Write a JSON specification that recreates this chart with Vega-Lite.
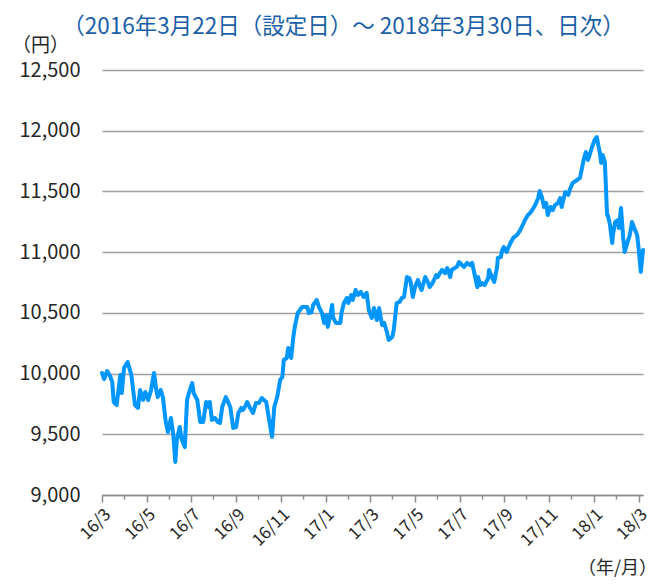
{
  "$schema": "https://vega.github.io/schema/vega-lite/v6.json",
  "width": 541,
  "height": 425,
  "autosize": {"type": "none"},
  "padding": {"left": 102, "top": 70, "right": 13, "bottom": 89},
  "background": "white",
  "config": {
    "view": {"stroke": null},
    "font": "Noto Sans CJK JP"
  },
  "title": {
    "text": "（2016年3月22日（設定日）～ 2018年3月30日、日次）",
    "anchor": "middle",
    "frame": "group",
    "dx": -29,
    "offset": -2,
    "fontSize": 22.5,
    "fontWeight": "normal",
    "color": "#1b5fa8",
    "font": "Noto Sans CJK JP"
  },
  "data": {
    "values": [
      {"date": "2016-03-22", "price": 10005},
      {"date": "2016-03-25", "price": 9955},
      {"date": "2016-03-29", "price": 10021},
      {"date": "2016-04-02", "price": 9980},
      {"date": "2016-04-05", "price": 9931},
      {"date": "2016-04-07", "price": 9766},
      {"date": "2016-04-11", "price": 9741},
      {"date": "2016-04-16", "price": 9988},
      {"date": "2016-04-18", "price": 9840},
      {"date": "2016-04-21", "price": 10046},
      {"date": "2016-04-26", "price": 10095},
      {"date": "2016-05-01", "price": 9988},
      {"date": "2016-05-06", "price": 9741},
      {"date": "2016-05-10", "price": 9717},
      {"date": "2016-05-13", "price": 9865},
      {"date": "2016-05-17", "price": 9782},
      {"date": "2016-05-20", "price": 9848},
      {"date": "2016-05-24", "price": 9782},
      {"date": "2016-05-28", "price": 9865},
      {"date": "2016-06-01", "price": 10005},
      {"date": "2016-06-04", "price": 9865},
      {"date": "2016-06-06", "price": 9807},
      {"date": "2016-06-10", "price": 9865},
      {"date": "2016-06-13", "price": 9807},
      {"date": "2016-06-17", "price": 9601},
      {"date": "2016-06-20", "price": 9519},
      {"date": "2016-06-24", "price": 9634},
      {"date": "2016-06-27", "price": 9511},
      {"date": "2016-06-30", "price": 9272},
      {"date": "2016-07-02", "price": 9453},
      {"date": "2016-07-06", "price": 9560},
      {"date": "2016-07-09", "price": 9453},
      {"date": "2016-07-13", "price": 9395},
      {"date": "2016-07-16", "price": 9782},
      {"date": "2016-07-19", "price": 9848},
      {"date": "2016-07-23", "price": 9922},
      {"date": "2016-07-25", "price": 9840},
      {"date": "2016-07-30", "price": 9782},
      {"date": "2016-08-03", "price": 9601},
      {"date": "2016-08-07", "price": 9601},
      {"date": "2016-08-11", "price": 9766},
      {"date": "2016-08-14", "price": 9725},
      {"date": "2016-08-16", "price": 9766},
      {"date": "2016-08-19", "price": 9618},
      {"date": "2016-08-23", "price": 9634},
      {"date": "2016-08-27", "price": 9601},
      {"date": "2016-08-30", "price": 9593},
      {"date": "2016-09-02", "price": 9725},
      {"date": "2016-09-07", "price": 9807},
      {"date": "2016-09-10", "price": 9766},
      {"date": "2016-09-13", "price": 9725},
      {"date": "2016-09-17", "price": 9552},
      {"date": "2016-09-21", "price": 9560},
      {"date": "2016-09-24", "price": 9675},
      {"date": "2016-09-28", "price": 9717},
      {"date": "2016-09-30", "price": 9700},
      {"date": "2016-10-03", "price": 9725},
      {"date": "2016-10-06", "price": 9766},
      {"date": "2016-10-10", "price": 9717},
      {"date": "2016-10-14", "price": 9675},
      {"date": "2016-10-18", "price": 9758},
      {"date": "2016-10-22", "price": 9758},
      {"date": "2016-10-26", "price": 9799},
      {"date": "2016-11-01", "price": 9766},
      {"date": "2016-11-05", "price": 9618},
      {"date": "2016-11-09", "price": 9478},
      {"date": "2016-11-12", "price": 9725},
      {"date": "2016-11-16", "price": 9807},
      {"date": "2016-11-20", "price": 9947},
      {"date": "2016-11-23", "price": 9972},
      {"date": "2016-11-25", "price": 10112},
      {"date": "2016-11-29", "price": 10128},
      {"date": "2016-12-01", "price": 10211},
      {"date": "2016-12-05", "price": 10128},
      {"date": "2016-12-08", "price": 10301},
      {"date": "2016-12-10", "price": 10384},
      {"date": "2016-12-14", "price": 10499},
      {"date": "2016-12-20", "price": 10548},
      {"date": "2016-12-24", "price": 10548},
      {"date": "2016-12-27", "price": 10548},
      {"date": "2016-12-29", "price": 10499},
      {"date": "2017-01-02", "price": 10507},
      {"date": "2017-01-04", "price": 10565},
      {"date": "2017-01-09", "price": 10606},
      {"date": "2017-01-12", "price": 10548},
      {"date": "2017-01-16", "price": 10499},
      {"date": "2017-01-19", "price": 10417},
      {"date": "2017-01-22", "price": 10482},
      {"date": "2017-01-24", "price": 10384},
      {"date": "2017-01-27", "price": 10466},
      {"date": "2017-01-30", "price": 10565},
      {"date": "2017-01-31", "price": 10466},
      {"date": "2017-02-04", "price": 10417},
      {"date": "2017-02-10", "price": 10417},
      {"date": "2017-02-12", "price": 10507},
      {"date": "2017-02-15", "price": 10581},
      {"date": "2017-02-19", "price": 10622},
      {"date": "2017-02-21", "price": 10581},
      {"date": "2017-02-25", "price": 10647},
      {"date": "2017-02-27", "price": 10606},
      {"date": "2017-03-03", "price": 10688},
      {"date": "2017-03-06", "price": 10647},
      {"date": "2017-03-10", "price": 10672},
      {"date": "2017-03-14", "price": 10631},
      {"date": "2017-03-18", "price": 10664},
      {"date": "2017-03-21", "price": 10524},
      {"date": "2017-03-25", "price": 10458},
      {"date": "2017-03-28", "price": 10540},
      {"date": "2017-04-01", "price": 10441},
      {"date": "2017-04-04", "price": 10540},
      {"date": "2017-04-08", "price": 10400},
      {"date": "2017-04-11", "price": 10417},
      {"date": "2017-04-15", "price": 10334},
      {"date": "2017-04-17", "price": 10277},
      {"date": "2017-04-22", "price": 10301},
      {"date": "2017-04-24", "price": 10359},
      {"date": "2017-04-28", "price": 10581},
      {"date": "2017-05-02", "price": 10590},
      {"date": "2017-05-05", "price": 10622},
      {"date": "2017-05-08", "price": 10631},
      {"date": "2017-05-12", "price": 10795},
      {"date": "2017-05-15", "price": 10787},
      {"date": "2017-05-17", "price": 10754},
      {"date": "2017-05-20", "price": 10631},
      {"date": "2017-05-23", "price": 10713},
      {"date": "2017-05-27", "price": 10771},
      {"date": "2017-05-30", "price": 10713},
      {"date": "2017-06-01", "price": 10688},
      {"date": "2017-06-06", "price": 10795},
      {"date": "2017-06-10", "price": 10746},
      {"date": "2017-06-12", "price": 10713},
      {"date": "2017-06-16", "price": 10746},
      {"date": "2017-06-21", "price": 10812},
      {"date": "2017-06-23", "price": 10795},
      {"date": "2017-06-26", "price": 10828},
      {"date": "2017-06-29", "price": 10853},
      {"date": "2017-07-03", "price": 10828},
      {"date": "2017-07-06", "price": 10869},
      {"date": "2017-07-10", "price": 10795},
      {"date": "2017-07-12", "price": 10853},
      {"date": "2017-07-16", "price": 10869},
      {"date": "2017-07-19", "price": 10878},
      {"date": "2017-07-22", "price": 10919},
      {"date": "2017-07-26", "price": 10894},
      {"date": "2017-07-29", "price": 10878},
      {"date": "2017-08-02", "price": 10911},
      {"date": "2017-08-06", "price": 10894},
      {"date": "2017-08-09", "price": 10911},
      {"date": "2017-08-11", "price": 10853},
      {"date": "2017-08-16", "price": 10713},
      {"date": "2017-08-17", "price": 10795},
      {"date": "2017-08-20", "price": 10729},
      {"date": "2017-08-22", "price": 10746},
      {"date": "2017-08-26", "price": 10729},
      {"date": "2017-08-31", "price": 10787},
      {"date": "2017-09-01", "price": 10853},
      {"date": "2017-09-05", "price": 10795},
      {"date": "2017-09-08", "price": 10754},
      {"date": "2017-09-12", "price": 10878},
      {"date": "2017-09-13", "price": 10952},
      {"date": "2017-09-17", "price": 10960},
      {"date": "2017-09-19", "price": 11018},
      {"date": "2017-09-21", "price": 11042},
      {"date": "2017-09-25", "price": 11001},
      {"date": "2017-09-27", "price": 11034},
      {"date": "2017-10-01", "price": 11084},
      {"date": "2017-10-04", "price": 11117},
      {"date": "2017-10-09", "price": 11141},
      {"date": "2017-10-12", "price": 11166},
      {"date": "2017-10-15", "price": 11199},
      {"date": "2017-10-17", "price": 11224},
      {"date": "2017-10-20", "price": 11265},
      {"date": "2017-10-24", "price": 11306},
      {"date": "2017-10-27", "price": 11322},
      {"date": "2017-10-30", "price": 11347},
      {"date": "2017-11-03", "price": 11388},
      {"date": "2017-11-07", "price": 11446},
      {"date": "2017-11-09", "price": 11504},
      {"date": "2017-11-12", "price": 11454},
      {"date": "2017-11-15", "price": 11372},
      {"date": "2017-11-18", "price": 11405},
      {"date": "2017-11-20", "price": 11306},
      {"date": "2017-11-24", "price": 11372},
      {"date": "2017-11-27", "price": 11347},
      {"date": "2017-11-30", "price": 11388},
      {"date": "2017-12-04", "price": 11405},
      {"date": "2017-12-07", "price": 11446},
      {"date": "2017-12-09", "price": 11372},
      {"date": "2017-12-14", "price": 11495},
      {"date": "2017-12-18", "price": 11471},
      {"date": "2017-12-20", "price": 11512},
      {"date": "2017-12-24", "price": 11569},
      {"date": "2017-12-30", "price": 11594},
      {"date": "2018-01-03", "price": 11611},
      {"date": "2018-01-06", "price": 11701},
      {"date": "2018-01-08", "price": 11759},
      {"date": "2018-01-11", "price": 11825},
      {"date": "2018-01-14", "price": 11759},
      {"date": "2018-01-17", "price": 11817},
      {"date": "2018-01-19", "price": 11858},
      {"date": "2018-01-23", "price": 11924},
      {"date": "2018-01-26", "price": 11948},
      {"date": "2018-01-28", "price": 11882},
      {"date": "2018-01-30", "price": 11825},
      {"date": "2018-02-01", "price": 11734},
      {"date": "2018-02-03", "price": 11800},
      {"date": "2018-02-06", "price": 11742},
      {"date": "2018-02-09", "price": 11306},
      {"date": "2018-02-10", "price": 11306},
      {"date": "2018-02-13", "price": 11224},
      {"date": "2018-02-16", "price": 11075},
      {"date": "2018-02-17", "price": 11141},
      {"date": "2018-02-20", "price": 11248},
      {"date": "2018-02-24", "price": 11265},
      {"date": "2018-02-25", "price": 11199},
      {"date": "2018-02-28", "price": 11364},
      {"date": "2018-03-03", "price": 11117},
      {"date": "2018-03-05", "price": 11001},
      {"date": "2018-03-09", "price": 11084},
      {"date": "2018-03-12", "price": 11141},
      {"date": "2018-03-15", "price": 11248},
      {"date": "2018-03-18", "price": 11199},
      {"date": "2018-03-22", "price": 11141},
      {"date": "2018-03-24", "price": 11034},
      {"date": "2018-03-27", "price": 10837},
      {"date": "2018-03-30", "price": 11018}
    ]
  },
  "encoding": {
    "y": {
      "field": "price",
      "type": "quantitative",
      "scale": {"domain": [9000, 12500], "nice": false, "zero": false},
      "axis": {
        "values": [9000, 9500, 10000, 10500, 11000, 11500, 12000, 12500],
        "format": ",.0f",
        "labelFontSize": 20,
        "labelColor": "#262626",
        "labelPadding": 22,
        "ticks": false,
        "tickSize": 0,
        "domain": false,
        "grid": true,
        "gridColor": "#a0a0a0",
        "gridWidth": 1.5,
        "title": "（円）",
        "titleFontSize": 19,
        "titleFontWeight": "normal",
        "titleColor": "#262626",
        "titleAngle": 0,
        "titleAlign": "center",
        "titleBaseline": "middle",
        "titleX": -62,
        "titleY": -25
      }
    }
  },
  "layer": [
    {
      "mark": {"type": "line", "color": "#0096ff", "strokeWidth": 4, "strokeJoin": "round", "strokeCap": "round"},
      "encoding": {
        "x": {
          "field": "date",
          "type": "temporal",
          "scale": {
            "type": "utc",
            "domain": [
              {"year": 2016, "month": 3, "date": 22, "utc": true},
              {"year": 2018, "month": 3, "date": 30, "utc": true}
            ]
          },
          "axis": {
            "values": [
              {"year": 2016, "month": 3, "date": 22, "utc": true},
              {"year": 2016, "month": 5, "date": 22, "utc": true},
              {"year": 2016, "month": 7, "date": 22, "utc": true},
              {"year": 2016, "month": 9, "date": 21, "utc": true},
              {"year": 2016, "month": 11, "date": 21, "utc": true},
              {"year": 2017, "month": 1, "date": 21, "utc": true},
              {"year": 2017, "month": 3, "date": 23, "utc": true},
              {"year": 2017, "month": 5, "date": 23, "utc": true},
              {"year": 2017, "month": 7, "date": 23, "utc": true},
              {"year": 2017, "month": 9, "date": 22, "utc": true},
              {"year": 2017, "month": 11, "date": 22, "utc": true},
              {"year": 2018, "month": 1, "date": 22, "utc": true},
              {"year": 2018, "month": 3, "date": 24, "utc": true}
            ],
            "format": "%y/%-m",
            "labelAngle": -45,
            "labelFontSize": 17,
            "labelColor": "#262626",
            "labelPadding": 4,
            "labelOverlap": false,
            "labelFlush": false,
            "tickSize": 7,
            "tickColor": "#8c8c8c",
            "tickWidth": 1.5,
            "domainColor": "#8c8c8c",
            "domainWidth": 1.5,
            "grid": false,
            "encode": {"ticks": {"update": {"y": {"value": -6}}}},
            "title": "（年/月）",
            "titleFontSize": 18,
            "titleFontWeight": "normal",
            "titleColor": "#262626",
            "titleAngle": 0,
            "titleAlign": "center",
            "titleBaseline": "middle",
            "titleX": 515,
            "titleY": 73
          }
        }
      }
    },
    {
      "mark": {"type": "line", "opacity": 0},
      "encoding": {
        "x": {
          "field": "date",
          "type": "temporal",
          "axis": {
            "orient": "bottom",
            "values": [
              {"year": 2016, "month": 4, "date": 21, "utc": true},
              {"year": 2016, "month": 6, "date": 21, "utc": true},
              {"year": 2016, "month": 8, "date": 21, "utc": true},
              {"year": 2016, "month": 10, "date": 21, "utc": true},
              {"year": 2016, "month": 12, "date": 21, "utc": true},
              {"year": 2017, "month": 2, "date": 20, "utc": true},
              {"year": 2017, "month": 4, "date": 22, "utc": true},
              {"year": 2017, "month": 6, "date": 22, "utc": true},
              {"year": 2017, "month": 8, "date": 22, "utc": true},
              {"year": 2017, "month": 10, "date": 22, "utc": true},
              {"year": 2017, "month": 12, "date": 22, "utc": true},
              {"year": 2018, "month": 2, "date": 21, "utc": true}
            ],
            "labels": false,
            "domain": false,
            "grid": false,
            "title": null,
            "tickSize": 4,
            "tickColor": "#8c8c8c",
            "tickWidth": 1.5,
            "encode": {"ticks": {"update": {"y": {"value": -4}, "y2": {"value": 0}}}}
          }
        }
      }
    }
  ],
  "resolve": {"axis": {"x": "independent"}}
}
